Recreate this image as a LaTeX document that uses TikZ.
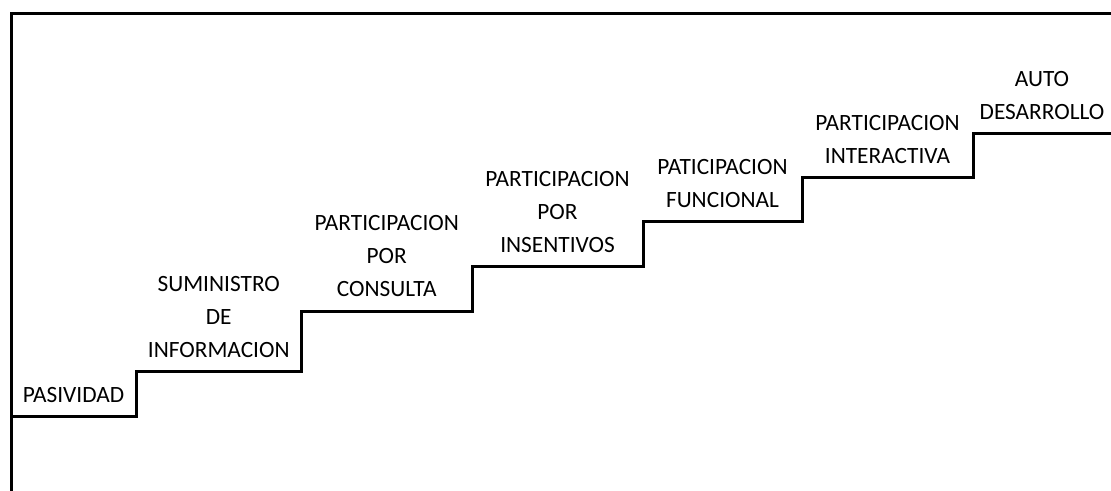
\documentclass[tikz,border=0pt]{standalone}
\usepackage{fontspec}
\setmainfont{Carlito}
\begin{document}
\begin{tikzpicture}[x=0.75pt, y=-0.75pt, line width=2.25pt, font={\fontsize{17.5pt}{24.75pt}\selectfont}]
			
			\useasboundingbox (0,0) rectangle (1111,491);
			
			\tikzset{peldano/.style={anchor=south, align=center, inner sep=0pt, text depth=0pt}}
			
			\draw (11,491) -- (11,14) -- (1111,14);
			
			\foreach \xa/\xb/\yf/\lbl [count=\k] in {
				11/136/417/{PASIVIDAD},
				136/301.5/372/{SUMINISTRO\\DE\\INFORMACION},
				301.5/472/311.5/{PARTICIPACION\\POR\\CONSULTA},
				472/643/267/{PARTICIPACION\\POR\\INSENTIVOS},
				643/802/222/{PATICIPACION\\FUNCIONAL},
				802/973/178/{PARTICIPACION\\INTERACTIVA},
				973/1111/134/{AUTO\\DESARROLLO}}{
				\coordinate (a\k) at (\xa,\yf);
				\coordinate (b\k) at (\xb,\yf);
				\pgfmathsetmacro{\xm}{(\xa+\xb)/2}
				\pgfmathsetmacro{\yt}{\yf-13}
				\node[peldano] (paso\k) at (\xm,\yt) {\lbl};
			}
			
			\draw[line join=miter] (a1) -- (b1) \foreach \k in {2,...,7}{ -- (a\k) -- (b\k)};
			
		\end{tikzpicture}
\end{document}
